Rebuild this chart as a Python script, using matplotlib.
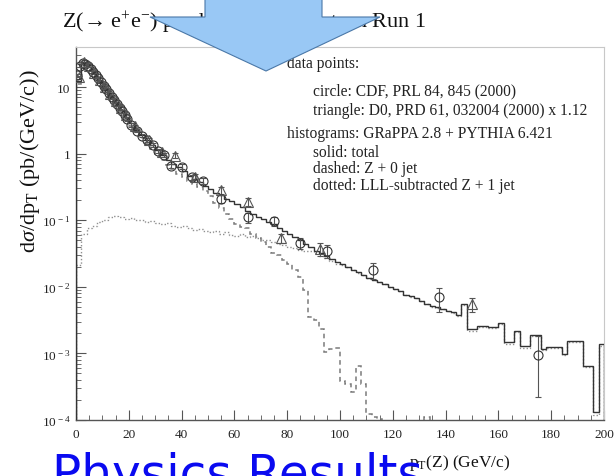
import numpy as np
import matplotlib
matplotlib.use("Agg")
import matplotlib.pyplot as plt
import matplotlib.ticker as ticker
from matplotlib.patches import Polygon

W, H = 615, 477

# ---------------------------------------------------------------------------
# Data
# ---------------------------------------------------------------------------
bin_edges = np.arange(0, 201, 2)

# solid: total
total = [
    12.5, 24, 21.4, 16.6, 12.6, 9.8, 7.6, 5.9, 4.6, 3.6,
    2.9, 2.3, 1.9, 1.58, 1.35, 1.12, 0.95, 0.81, 0.71, 0.62,
    0.54, 0.47, 0.42, 0.37, 0.33, 0.295, 0.26, 0.24, 0.21, 0.195,
    0.174, 0.158, 0.138, 0.126, 0.112, 0.105, 0.095, 0.087, 0.076, 0.069,
    0.063, 0.056, 0.05, 0.044, 0.039, 0.035, 0.032, 0.029, 0.026, 0.0234,
    0.0219, 0.02, 0.018, 0.0166, 0.0151, 0.0138, 0.0126, 0.012, 0.011, 0.010,
    0.0093, 0.0087, 0.0076, 0.0072, 0.0068, 0.0062, 0.0056, 0.0051, 0.0049, 0.0047,
    0.0044, 0.0042, 0.0038, 0.0055, 0.0023, 0.0023, 0.0026, 0.0026, 0.0025, 0.0025,
    0.0029, 0.0015, 0.0015, 0.0022, 0.0013, 0.0013, 0.0019, 0.0019, 0.00117, 0.00125,
    0.00125, 0.00125, 0.00098, 0.00156, 0.00156, 0.00156, 0.00065, 0.00065, 0.00013, 0.00138,
]

# dashed: Z + 0 jet
z0jet = [
    11.2, 23, 20, 15.5, 11.7, 9.1, 7.1, 5.5, 4.3, 3.3,
    2.6, 2.1, 1.7, 1.41, 1.17, 0.98, 0.81, 0.68, 0.58, 0.5,
    0.44, 0.39, 0.35, 0.32, 0.275, 0.234, 0.182, 0.151, 0.126, 0.105,
    0.089, 0.079, 0.076, 0.063, 0.054, 0.047, 0.04, 0.032, 0.030, 0.025,
    0.022, 0.018, 0.014, 0.0089, 0.0035, 0.0032, 0.0023, 0.00105, 0.00117, 0.0012,
    0.00039, 0.00035, 0.00026, 0.00065, 0.00035, 0.000125, 0.00011, 0.000105, 5e-5, 5e-5,
    5e-5, 5e-5, 5e-5, 5e-5, 5e-5, 5e-5, 0.00011, 5e-5, 5e-5, 5e-5,
    5e-5, 5e-5, 5e-5, 5e-5, 5e-5, 5e-5, 5e-5, 5e-5, 5e-5, 5e-5,
    5e-5, 5e-5, 5e-5, 5e-5, 5e-5, 5e-5, 5e-5, 5e-5, 5e-5, 5e-5,
    5e-5, 5e-5, 5e-5, 5e-5, 5e-5, 5e-5, 5e-5, 5e-5, 5e-5, 5e-5,
]

# dotted: LLL-subtracted Z + 1 jet
z1jet = [
    0.021, 0.063, 0.076, 0.083, 0.093, 0.1, 0.112, 0.117, 0.11, 0.105,
    0.107, 0.1, 0.102, 0.095, 0.098, 0.091, 0.087, 0.091, 0.083, 0.079,
    0.081, 0.076, 0.072, 0.074, 0.069, 0.066, 0.068, 0.063, 0.066, 0.06,
    0.058, 0.062, 0.056, 0.059, 0.055, 0.051, 0.05, 0.047, 0.044, 0.042,
    0.04, 0.038, 0.036, 0.035, 0.034, 0.032, 0.0295, 0.0275, 0.0248, 0.0222,
    0.0215, 0.0196, 0.0177, 0.0163, 0.0148, 0.0137, 0.0125, 0.0119, 0.0109, 0.0099,
    0.0092, 0.0086, 0.0075, 0.0071, 0.0067, 0.0061, 0.0055, 0.0050, 0.0048, 0.0046,
    0.0043, 0.0041, 0.0037, 0.0054, 0.0022, 0.0022, 0.0025, 0.0025, 0.0024, 0.0024,
    0.0028, 0.0014, 0.0014, 0.0021, 0.0012, 0.0012, 0.0018, 0.0018, 0.00112, 0.0012,
    0.0012, 0.0012, 0.00094, 0.0015, 0.0015, 0.0015, 0.00062, 0.00062, 0.00012, 0.0013,
]

# circle: CDF
cdf_x = [0.5, 1.5, 2.5, 3.5, 4.5, 5.5, 6.5, 7.5, 8.5, 9.5, 10.5, 11.5, 12.5, 13.5,
         14.5, 15.5, 16.5, 17.5, 18.5, 19.5, 21, 23, 25, 27, 29, 31, 33.5, 36, 40,
         44, 48, 55, 65, 75, 85, 95, 112.5, 137.5, 175]
cdf_y = [15, 21, 23, 22.5, 21, 19, 17, 15, 13.5, 12, 10.5, 9.3, 8.2, 7.2,
         6.4, 5.6, 4.9, 4.3, 3.8, 3.3, 2.7, 2.2, 1.85, 1.6, 1.35, 1.1, 0.95, 0.66, 0.64,
         0.44, 0.39, 0.21, 0.11, 0.098, 0.046, 0.035, 0.018, 0.0071, 0.00095]
cdf_err_lo = [0.8, 1.0, 1.0, 1.0, 0.9, 0.8, 0.7, 0.6, 0.6, 0.5, 0.5, 0.4, 0.4, 0.35,
              0.3, 0.3, 0.25, 0.22, 0.2, 0.18, 0.15, 0.12, 0.1, 0.09, 0.08, 0.07, 0.06, 0.05, 0.05,
              0.04, 0.035, 0.03, 0.018, 0.015, 0.009, 0.008, 0.005, 0.0029, 0.00073]
cdf_err_hi = [0.8, 1.0, 1.0, 1.0, 0.9, 0.8, 0.7, 0.6, 0.6, 0.5, 0.5, 0.4, 0.4, 0.35,
              0.3, 0.3, 0.25, 0.22, 0.2, 0.18, 0.15, 0.12, 0.1, 0.09, 0.08, 0.07, 0.06, 0.05, 0.05,
              0.04, 0.035, 0.03, 0.018, 0.015, 0.009, 0.008, 0.005, 0.0026, 0.00085]

# triangle: D0 (x 1.12)
d0_x = [1, 3, 5, 7, 9, 11, 13, 15, 17, 19, 22.5, 27.5, 32.5, 37.5, 45, 55, 65,
        77.5, 92.5, 150]
d0_y = [14, 24, 21, 16.5, 13, 10, 7.8, 6.1, 4.8, 3.8, 2.6, 1.6, 1.05, 0.93, 0.45,
        0.28, 0.19, 0.054, 0.037, 0.0055]
d0_err = [0.9, 1.2, 1.0, 0.8, 0.7, 0.5, 0.4, 0.3, 0.25, 0.2, 0.14, 0.09, 0.07, 0.08,
          0.04, 0.035, 0.028, 0.009, 0.008, 0.0013]

y_ticks = [1e-4, 1e-3, 1e-2, 1e-1, 1, 10]
x_ticks = [0, 20, 40, 60, 80, 100, 120, 140, 160, 180, 200]

title_text = "Z(\u2192 e$^{+}$e$^{-}$) production at Tevatron Run 1"
note_lines = [
    ("data points:", 287, 68),
    ("circle: CDF, PRL 84, 845 (2000)", 313, 95),
    ("triangle: D0, PRD 61, 032004 (2000) x 1.12", 313, 115),
    ("histograms: GRaPPA 2.8 + PYTHIA 6.421", 287, 138),
    ("solid: total", 313, 157),
    ("dashed: Z + 0 jet", 313, 173),
    ("dotted: LLL-subtracted Z + 1 jet", 313, 190),
]

# ---------------------------------------------------------------------------
plt.rcParams["font.family"] = ["Liberation Serif", "DejaVu Serif"]
plt.rcParams["mathtext.fontset"] = "custom"
plt.rcParams["mathtext.rm"] = "Liberation Serif"
plt.rcParams["mathtext.it"] = "Liberation Serif:italic"


def fpx(x, y):
    return x / W, 1 - y / H


fig = plt.figure(figsize=(W / 100, H / 100), dpi=100)
ax = fig.add_axes([76 / W, 1 - 421 / H, (604 - 76) / W, (421 - 48) / H])

line_col = "#333333"
ax.stairs(total, bin_edges, color=line_col, lw=1.0, zorder=3)
ax.stairs(z0jet, bin_edges, color="#7a7a7a", lw=1.1, ls=(0, (3, 2.5)), zorder=2)
ax.stairs(z1jet, bin_edges, color="#909090", lw=1.0, ls=(0, (1, 1.5)), zorder=2)

ax.errorbar(cdf_x, cdf_y, yerr=[cdf_err_lo, cdf_err_hi], fmt="o", ms=6.5,
            mfc="none", mec=line_col, mew=0.8, ecolor="#555555", elinewidth=0.8,
            capsize=2.5, capthick=0.8, zorder=4)
ax.errorbar(d0_x, d0_y, yerr=d0_err, fmt="^", ms=6.5,
            mfc="none", mec="#555555", mew=0.8, ecolor="#555555", elinewidth=0.8,
            capsize=2.5, capthick=0.8, zorder=4)

ax.set_yscale("log")
ax.set_xlim(0, 200)
ax.set_ylim(1e-4, 40)


def ylab(v, pos):
    if v == 10:
        return "10"
    if v == 1:
        return "1"
    return r"$10^{\,%d}$" % int(round(np.log10(v)))


ax.yaxis.set_major_locator(ticker.FixedLocator(y_ticks))
ax.yaxis.set_major_formatter(ticker.FuncFormatter(ylab))
ax.yaxis.set_minor_locator(ticker.LogLocator(base=10, subs=np.arange(2, 10), numticks=20))
ax.yaxis.set_minor_formatter(ticker.NullFormatter())
ax.xaxis.set_major_locator(ticker.FixedLocator(x_ticks))
ax.xaxis.set_minor_locator(ticker.MultipleLocator(5))

ax.tick_params(which="both", direction="in", colors="#555555", labelcolor="#222222",
               top=False, right=False, labelsize=9.5)
ax.tick_params(which="major", length=7, width=0.8)
ax.tick_params(which="minor", length=3.5, width=0.6)
ax.tick_params(axis="y", pad=4)
ax.tick_params(axis="x", pad=6)

for side in ("left", "bottom"):
    ax.spines[side].set_color("#555555")
    ax.spines[side].set_linewidth(1.0)
for side in ("top", "right"):
    ax.spines[side].set_color("#c8c8c8")
    ax.spines[side].set_linewidth(0.8)

# texts
fig.text(*fpx(62, 28), title_text, fontsize=16, va="baseline", ha="left", color="#111111")
fig.text(*fpx(30, 161), r"d$\sigma$/dp$_{\mathrm{T}}$ (pb/(GeV/c))", fontsize=16,
         rotation=90, va="center", ha="center", color="#111111")
fig.text(*fpx(510, 467), r"p$_{\mathrm{T}}$(Z) (GeV/c)", fontsize=12.5,
         va="baseline", ha="right", color="#111111")
for txt, x, y in note_lines:
    fig.text(*fpx(x, y), txt, fontsize=11.2, va="baseline", ha="left", color="#222222")

# slide arrow
arrow_px = [(205, -2), (322, -2), (322, 18), (380, 18), (266, 72), (150, 18), (205, 18)]
arrow = Polygon([fpx(x, y) for x, y in arrow_px], closed=True, transform=fig.transFigure,
                facecolor="#99c8f5", edgecolor="#4a78a8", lw=0.8, zorder=10)
fig.add_artist(arrow)

fig.text(*fpx(52, 490), "Physics Results", fontsize=35, va="baseline", ha="left",
         color="#0a0af0", family=["DejaVu Sans"], zorder=11)

fig.savefig("out.png", dpi=100)
